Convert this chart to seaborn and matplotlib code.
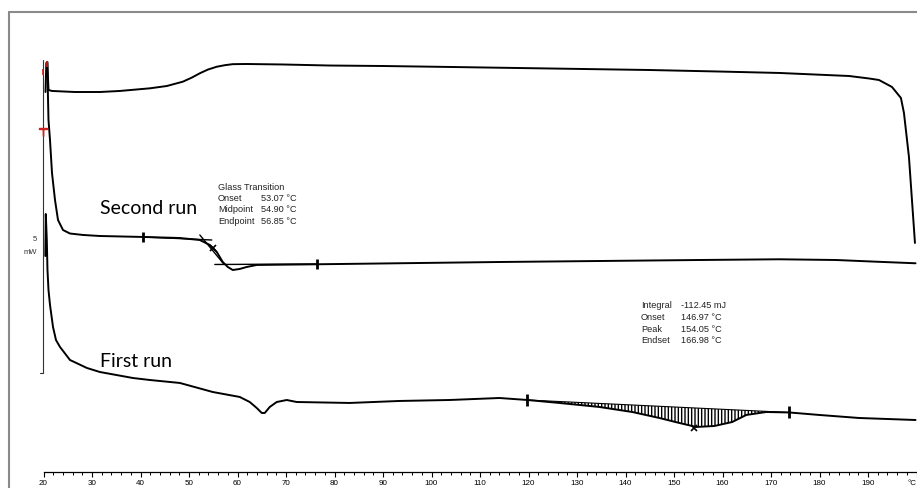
import numpy as np
import pandas as pd
import matplotlib
matplotlib.use("Agg")
import matplotlib.pyplot as plt
from matplotlib.lines import Line2D
from matplotlib.ticker import FixedLocator
import seaborn as sns

# ---------------- data (temperature in degC, heat flow in mW, offset curves) -------------
cool_T = [20.41, 20.58, 20.78, 21.03, 21.75, 26.49, 31.63, 35.75, 41.93, 45.43, 48.73,
          50.58, 52.23, 53.88, 55.73, 57.38, 59.02, 61.91, 69.32, 79.0, 89.91, 103.71,
          124.3, 144.9, 159.3, 171.7, 186.1, 190.2, 192.26, 194.94, 196.79, 197.41,
          198.44, 199.06, 199.68]
cool_Q = [47.5, 51.13, 51.25, 47.75, 47.63, 47.5, 47.5, 47.63, 47.96, 48.25, 48.79,
          49.3, 49.84, 50.3, 50.66, 50.85, 50.98, 51.0, 50.94, 50.81, 50.75, 50.63,
          50.44, 50.25, 50.06, 49.88, 49.5, 49.19, 49.0, 48.13, 46.75, 44.88,
          39.38, 34.0, 28.63]

run2_T = [20.78, 20.89, 21.03, 21.34, 21.75, 22.37, 22.99, 24.02, 25.46, 28.13, 31.63,
          40.49, 48.11, 52.23, 54.29, 55.73, 56.96, 57.99, 59.02, 60.46, 61.91, 63.97,
          72.82, 81.06, 114.0, 155.2, 171.7, 183.4, 191.6, 199.8]
run2_Q = [51.25, 47.75, 44.0, 41.5, 37.38, 34.0, 31.5, 30.25, 29.81, 29.63, 29.5,
          29.38, 29.25, 29.0, 28.38, 27.5, 26.25, 25.63, 25.25, 25.38, 25.63, 25.88,
          25.94, 26.0, 26.25, 26.5, 26.59, 26.5, 26.29, 26.09]

run1_T = [20.37, 20.47, 20.68, 20.82, 21.03, 21.34, 21.96, 22.57, 23.40, 25.46, 28.96,
          31.63, 38.43, 41.93, 48.11, 54.9, 60.46, 62.52, 63.97, 65.0, 65.62, 66.65,
          68.09, 70.15, 72.21, 83.12, 93.42, 103.71, 114.01, 119.78, 126.37, 130.49,
          134.6, 141.4, 147.0, 151.1, 154.6, 158.3, 162.0, 164.9, 169.0, 173.8,
          179.96, 188.2, 199.8]
run1_Q = [27.0, 32.25, 29.0, 25.25, 22.75, 20.88, 18.13, 16.5, 15.63, 14.0, 13.0,
          12.5, 11.75, 11.5, 11.13, 10.0, 9.38, 8.75, 8.0, 7.38, 7.38, 8.13,
          8.75, 9.0, 8.75, 8.63, 8.88, 9.0, 9.25, 9.0, 8.63, 8.38,
          8.13, 7.5, 6.75, 6.13, 5.63, 5.75, 6.25, 7.13, 7.5, 7.44,
          7.13, 6.75, 6.5]

# evaluation limits / results
run2_limits = [40.49, 76.3]
run1_limits = [119.78, 173.8]
gt_title = "Glass Transition"
gt_labels = ["Onset", "Midpoint", "Endpoint"]
gt_values = ["53.07 \u00b0C", "54.90 \u00b0C", "56.85 \u00b0C"]
gt_midpoint = 54.90
gt_base_T = [40.49, 54.7]
gt_base_Q = [29.38, 29.0]
gt_tan_T = [52.23, 57.17]
gt_tan_Q = [29.63, 26.0]
gt_post_T = [55.32, 76.52]
gt_post_Q = [25.94, 26.0]
pk_labels = ["Integral", "Onset", "Peak", "Endset"]
pk_values = ["-112.45 mJ", "146.97 \u00b0C", "154.05 \u00b0C", "166.98 \u00b0C"]
pk_peak = 154.05

xticks = list(range(20, 201, 10))
xminor = list(range(20, 201, 2))
xtick_labels = [str(t) for t in range(20, 200, 10)] + ["\u00b0C"]

# ---------------- figure -------------------------------------------------------------
sns.set_theme(style="white")
plt.rcParams["font.family"] = ["Liberation Sans", "DejaVu Sans"]
plt.rcParams["hatch.linewidth"] = 1.0

W, H = 917, 488
fig = plt.figure(figsize=(W / 100, H / 100), dpi=100)
fig.patch.set_facecolor("white")
ax = fig.add_axes([0, 16 / H, 1, 472 / H])
ax.set_facecolor("none")

lw = 1.4
for T, Q in [(cool_T, cool_Q), (run2_T, run2_Q), (run1_T, run1_Q)]:
    df = pd.DataFrame({"T": T, "Q": Q})
    sns.lineplot(data=df, x="T", y="Q", sort=False, estimator=None, color="black",
                 lw=lw, ax=ax)

# scale bar
ax.plot([19.95, 19.95], [51.5, 12.375], color="#333333", lw=0.8)
ax.plot([19.3, 19.95], [12.375, 12.375], color="#333333", lw=0.8)
ax.text(18.6, 29.1, "5", ha="right", va="center", fontsize=5.5, color="#333333")
ax.text(18.6, 27.4, "mW", ha="right", va="center", fontsize=5.5, color="#333333")

# red markers near the start
ax.plot([19.9], [50.0], marker="|", ms=4, color="#d02020", mew=1.2)
ax.plot([20.7], [51.0], marker="|", ms=4, color="#d02020", mew=1.2)
ax.plot([19.8], [42.5], marker=r"$\top$", ms=6, color="#d02020")

# glass transition evaluation
ax.plot(gt_base_T, gt_base_Q, color="black", lw=1.0)
ax.plot(gt_tan_T, gt_tan_Q, color="black", lw=1.0)
ax.plot(gt_post_T, gt_post_Q, color="black", lw=1.0)
for t in run2_limits:
    ax.plot([t], [np.interp(t, run2_T, run2_Q)], marker="|", ms=7, mew=2, color="black")
ax.plot([gt_midpoint], [np.interp(gt_midpoint, run2_T, run2_Q)], marker="x", ms=4,
        mew=1.2, color="black")

# peak integration (hatched)
T1, T2 = run1_limits
Q1, Q2 = np.interp(T1, run1_T, run1_Q), np.interp(T2, run1_T, run1_Q)
grid = np.linspace(T1, T2, 500)
curve = np.interp(grid, run1_T, run1_Q)
base = Q1 + (Q2 - Q1) * (grid - T1) / (T2 - T1)
ax.fill_between(grid, curve, base, where=curve < base, facecolor="none",
                edgecolor="black", hatch="|||||", linewidth=0)
ax.plot([T1, T2], [Q1, Q2], color="black", lw=0.8)
for t in run1_limits:
    ax.plot([t], [np.interp(t, run1_T, run1_Q)], marker="|", ms=9, mew=2, color="black")
ax.plot([pk_peak], [np.interp(pk_peak, run1_T, run1_Q) - 0.2], marker="x", ms=4,
        mew=1.2, color="black")

# text annotations
ax.text(31.6, 33.0, "Second run", fontsize=14, family=["Lato", "DejaVu Sans"],
        ha="left", va="center", color="black")
ax.text(31.6, 13.8, "First run", fontsize=14, family=["Lato", "DejaVu Sans"],
        ha="left", va="center", color="black")

small = dict(fontsize=6.6, va="center", ha="left", color="#222222")
ax.text(56.0, 35.6, gt_title, **small)
gt_y = [34.2, 32.75, 31.3]
for lab, val, y in zip(gt_labels, gt_values, gt_y):
    ax.text(56.0, y, lab, **small)
    ax.text(64.9, y, val, **small)
pk_y = [20.75, 19.3, 17.85, 16.4]
for lab, val, y in zip(pk_labels, pk_values, pk_y):
    ax.text(143.2, y, lab, **small)
    ax.text(151.4, y, val, **small)

# axes styling
ax.set_xlim(11.03, 200.1)
ax.set_ylim(0, 59)
ax.set_xticks(xticks)
ax.set_xticklabels(xtick_labels)
ax.xaxis.set_minor_locator(FixedLocator(xminor))
ax.set_yticks([])
ax.set_xlabel("")
ax.set_ylabel("")
for s in ["left", "right", "top"]:
    ax.spines[s].set_visible(False)
ax.spines["bottom"].set_bounds(20, 200.1)
ax.spines["bottom"].set_color("black")
ax.spines["bottom"].set_linewidth(0.9)
ax.tick_params(axis="x", which="major", direction="out", length=3.5, width=0.8,
               labelsize=5.8, pad=2.5, colors="black", bottom=True)
ax.tick_params(axis="x", which="minor", direction="out", length=2, width=0.7,
               colors="black", bottom=True)
ax.get_xticklabels()[-1].set_horizontalalignment("right")

# outer frame (left and top edges visible)
fc = "#8a8a8a"
fig.add_artist(Line2D([9 / W, 9 / W], [0, 1 - 12 / H], transform=fig.transFigure,
                      color=fc, lw=1.5))
fig.add_artist(Line2D([9 / W, 1], [1 - 12 / H, 1 - 12 / H], transform=fig.transFigure,
                      color=fc, lw=1.5))

fig.savefig("out.png", dpi=100, facecolor="white")
